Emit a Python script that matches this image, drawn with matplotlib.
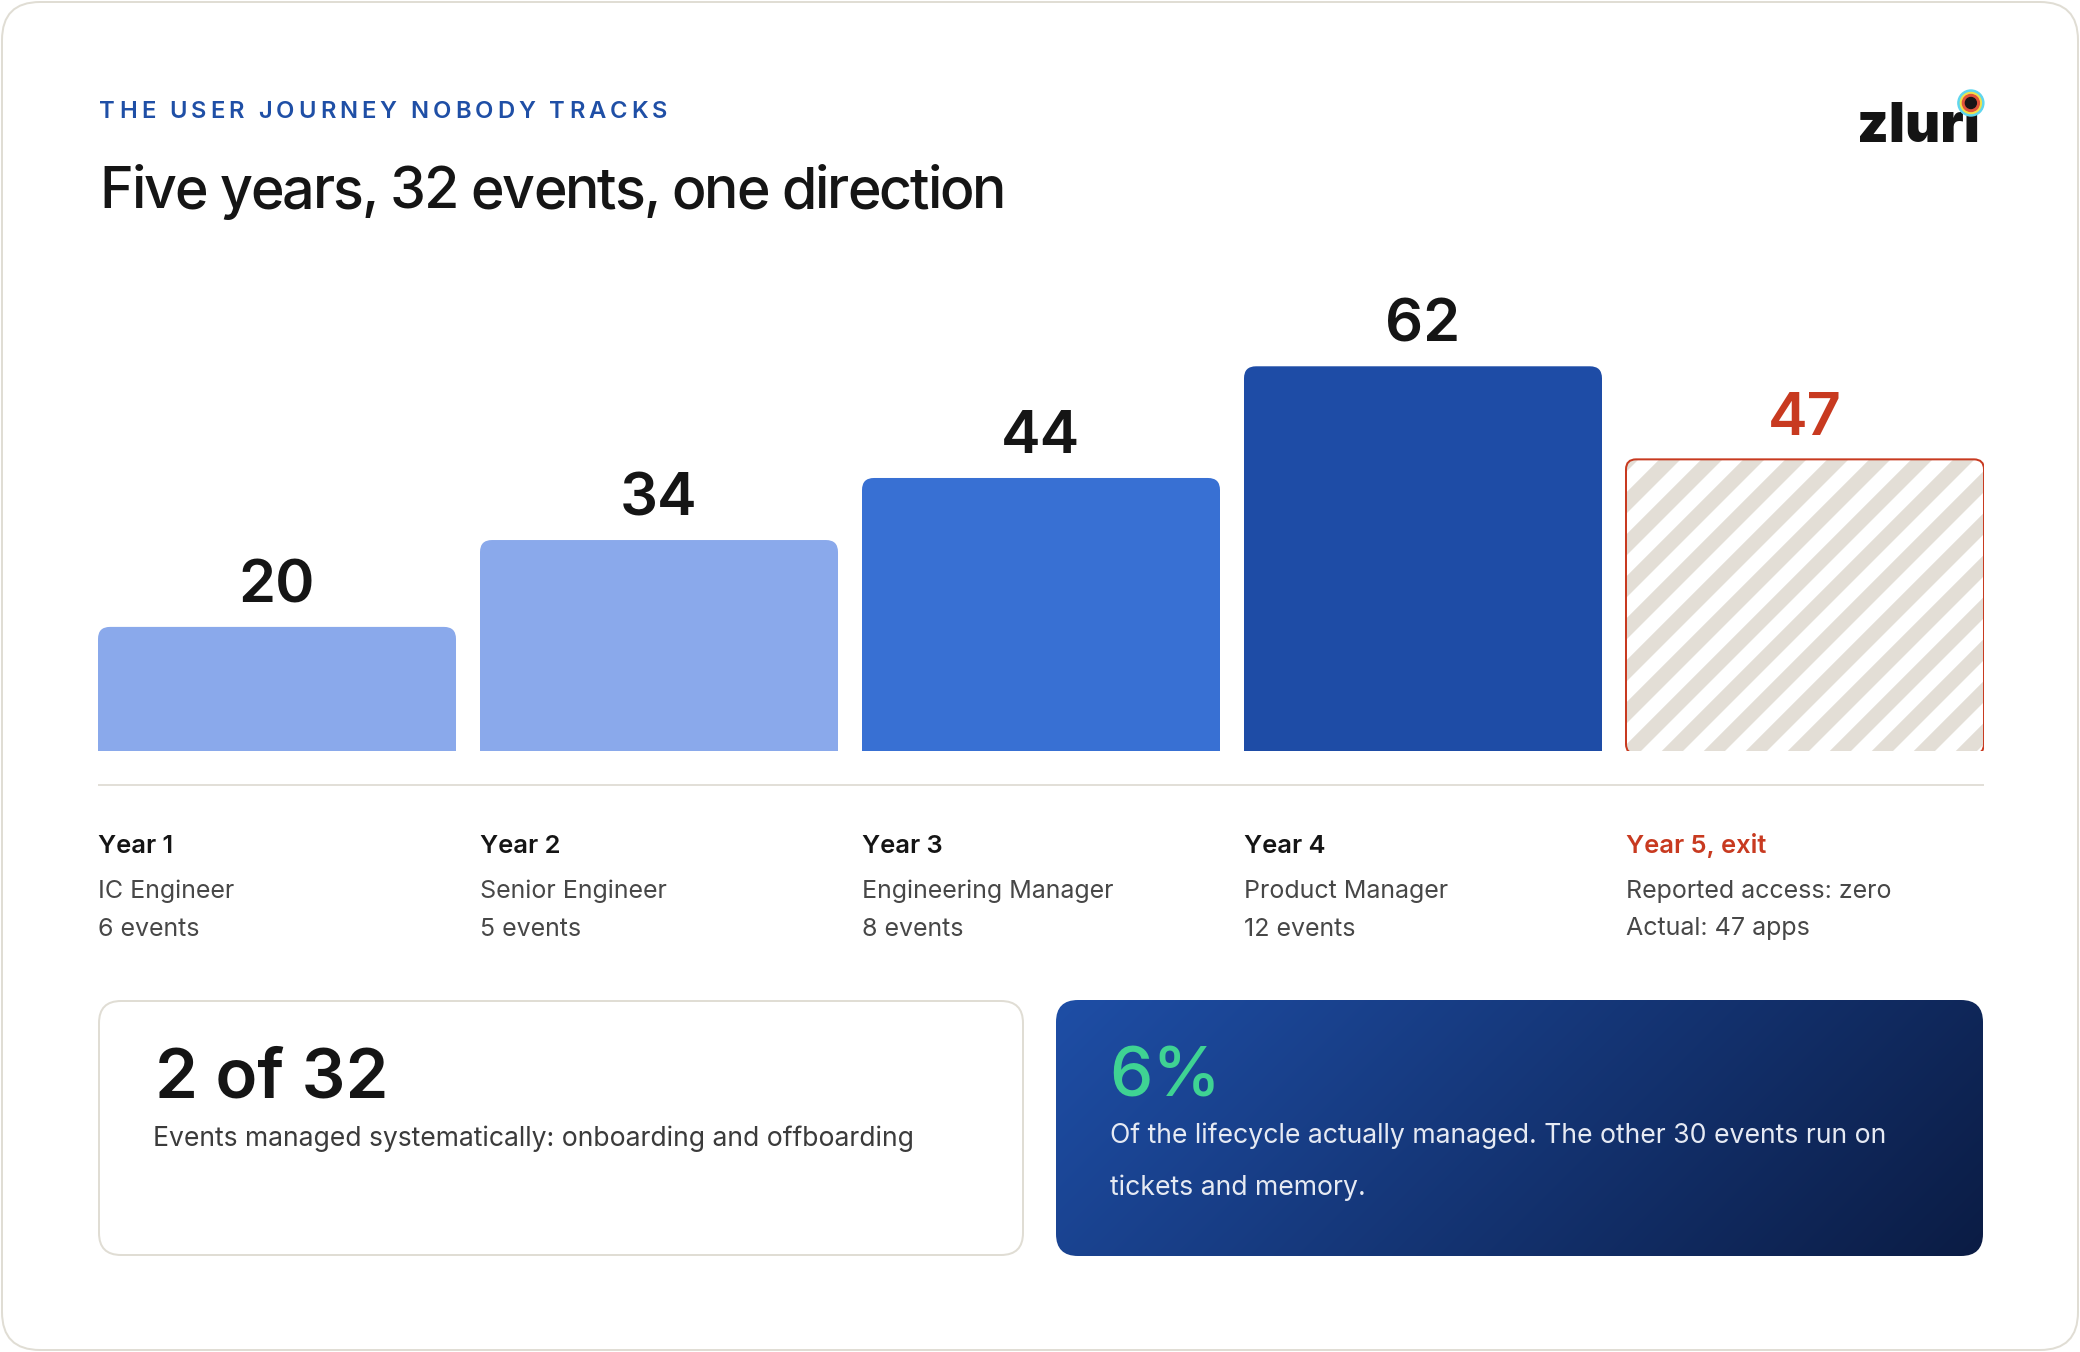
import matplotlib
matplotlib.use("Agg")
import matplotlib.pyplot as plt
from matplotlib.patches import FancyBboxPatch
import numpy as np

# ---------------- data ----------------
eyebrow = "THE USER JOURNEY NOBODY TRACKS"
title = "Five years, 32 events, one direction"
years = ["Year 1", "Year 2", "Year 3", "Year 4", "Year 5, exit"]
roles = ["IC Engineer", "Senior Engineer", "Engineering Manager", "Product Manager", "Reported access: zero"]
events = ["6 events", "5 events", "8 events", "12 events", "Actual: 47 apps"]
app_counts = [20, 34, 44, 62, 47]
stat_left_big = "2 of 32"
stat_left_text = "Events managed systematically: onboarding and offboarding"
stat_right_big = "6%"
stat_right_lines = ["Of the lifecycle actually managed. The other 30 events run on",
                    "tickets and memory."]

# ---------------- style ----------------
FONT = "Inter"
plt.rcParams["font.family"] = [FONT, "DejaVu Sans"]
W, H = 2080, 1352
PT = 0.72  # points per pixel at dpi 100
DARK = "#151515"
GREY = "#474747"
RED = "#c83a20"
BLUE_TXT = "#1f4fa6"
GREEN = "#3fd393"
BEIGE = "#e3ded6"
bar_colors = ["#8aa9eb", "#8aa9eb", "#3870d3", "#1e4ca6", "white"]

fig = plt.figure(figsize=(W / 100, H / 100), dpi=100)
bg = fig.add_axes([0, 0, 1, 1])
bg.set_xlim(0, W)
bg.set_ylim(H, 0)
bg.axis("off")

# card
card = FancyBboxPatch((2, 2), W - 4, H - 4, boxstyle="round,pad=0,rounding_size=38",
                      facecolor="white", edgecolor="#e0ddd4", linewidth=2 * PT, zorder=0)
bg.add_patch(card)

renderer = fig.canvas.get_renderer()


def tracked(ax, x, y, s, target_w, **kw):
    def width(t):
        tt = ax.text(0, 0, t, **kw)
        w = tt.get_window_extent(renderer).width
        tt.remove()
        return w
    base = width("HH")
    adv = [width("H" + c + "H") - base for c in s]
    natural = sum(adv)
    track = (target_w - natural) / (len(s) - 1)
    cx = x
    for c, a in zip(s, adv):
        ax.text(cx, y, c, va="baseline", ha="left", **kw)
        cx += a + track


tracked(bg, 99.5, 118.3, eyebrow, 568, fontsize=23.8 * PT, fontweight="semibold", color=BLUE_TXT)
tracked(bg, 99.5, 208.3, title, 907, fontsize=57.3 * PT, fontweight="medium", color=DARK)

# logo
logo = bg.text(1857, 142, "zlur\u0131", fontsize=54 * PT, fontweight="black", color="#141414",
               va="baseline", ha="left")
lx1 = logo.get_window_extent(renderer).x1  # display px == data px in x for bg axes
dot_x = lx1 - 9
for r, c in [(13, "#5fd6ee"), (10.5, "#f2e04a"), (8.5, "#e2523a"), (5.5, "#1a1416")]:
    bg.add_patch(plt.Circle((dot_x, 103), r, color=c, zorder=5))

# ---------------- bars ----------------
PXU = 6.205  # pixels per unit
ax_top, ax_bot = 280, 751
bax = fig.add_axes([98 / W, (H - ax_bot) / H, 1886 / W, (ax_bot - ax_top) / H])
bax.set_xlim(-0.4686, 4.4686)
bax.set_ylim(0, (ax_bot - ax_top) / PXU)
bax.axis("off")
xpu = 1886 / (4.4686 + 0.4686)  # pixels per x unit
x = np.arange(len(app_counts))
bars = bax.bar(x, app_counts, width=358 / xpu, color=bar_colors, linewidth=0)
asp = xpu / PXU

for i, rect in enumerate(bars):
    x0, w, h = rect.get_x(), rect.get_width(), rect.get_height()
    rx = (12 if i < 4 else 10) / xpu
    if i < 4:
        p = FancyBboxPatch((x0, 0), w, h, boxstyle=f"round,pad=0,rounding_size={rx}",
                           mutation_aspect=asp, facecolor=bar_colors[i], linewidth=0)
        bax.add_patch(p)
        rect.set_height(h - rx * asp)
        lab_col = DARK
    else:
        rect.set_visible(False)
        ext = 3 / PXU
        p = FancyBboxPatch((x0, -ext), w, h + ext, boxstyle=f"round,pad=0,rounding_size={rx}",
                           mutation_aspect=asp, facecolor="white", edgecolor="none", linewidth=0,
                           zorder=1)
        bax.add_patch(p)
        # stripes
        for k in range(-12, 12):
            s_px = k * 42 - 8
            xs = [x0 + s_px / xpu, x0 + (s_px + 500) / xpu]
            ys = [0 - 2, (500 - 2 * PXU) / PXU]
            ln, = bax.plot(xs, ys, color=BEIGE, linewidth=15 * PT, solid_capstyle="butt", zorder=2)
            ln.set_clip_path(p)
        border = FancyBboxPatch((x0, -ext), w, h + ext, boxstyle=f"round,pad=0,rounding_size={rx}",
                                mutation_aspect=asp, facecolor="none", edgecolor=RED,
                                linewidth=2 * PT, zorder=3)
        bax.add_patch(border)
        lab_col = RED
    bax.annotate(str(app_counts[i]), (x[i], h), xytext=(0, 24.5 * PT), textcoords="offset points",
                 ha="center", va="baseline", fontsize=59.6 * PT, fontweight="semibold",
                 color=lab_col, zorder=4)

# separator
bg.plot([98, 1984], [785, 785], color="#e2dfd8", linewidth=2 * PT, solid_capstyle="butt")

# year labels
for i in range(5):
    lx = 98 + 382 * i
    bg.text(lx, 853, years[i], fontsize=25.5 * PT, fontweight="semibold",
            color=RED if i == 4 else DARK, va="baseline", ha="left")
    bg.text(lx, 898, roles[i], fontsize=25 * PT, color=GREY, va="baseline", ha="left")
    bg.text(lx, 935.5, events[i], fontsize=25 * PT, color=GREY, va="baseline", ha="left")

# ---------------- stat boxes ----------------
lbox = FancyBboxPatch((99, 1001), 924, 254, boxstyle="round,pad=0,rounding_size=22",
                      facecolor="white", edgecolor="#e0ddd4", linewidth=2 * PT)
bg.add_patch(lbox)
bg.text(155, 1098, stat_left_big, fontsize=69 * PT, fontweight="semibold", color=DARK,
        va="baseline", ha="left")
bg.text(153, 1145.7, stat_left_text, fontsize=26.5 * PT, color="#3b3b3b", va="baseline", ha="left")

rx0, ry0, rw, rh = 1056, 1000, 927, 256
rbox = FancyBboxPatch((rx0, ry0), rw, rh, boxstyle="round,pad=0,rounding_size=22",
                      facecolor="none", edgecolor="none")
bg.add_patch(rbox)
gx, gy = np.meshgrid(np.linspace(0, rw, 300), np.linspace(0, rh, 90))
t = (gx + gy) / (rw + rh)
c0 = np.array([0x1e, 0x4e, 0xa6]) / 255
c1 = np.array([0x0b, 0x1c, 0x44]) / 255
img = c0[None, None, :] * (1 - t[..., None]) + c1[None, None, :] * t[..., None]
im = bg.imshow(img, extent=[rx0, rx0 + rw, ry0 + rh, ry0], origin="upper", aspect="auto",
               interpolation="bilinear", zorder=1)
im.set_clip_path(rbox)
bg.set_xlim(0, W)
bg.set_ylim(H, 0)
bg.text(1109.6, 1096.7, stat_right_big, fontsize=69 * PT, fontweight="medium", color=GREEN,
        va="baseline", ha="left", zorder=3)
for j, line in enumerate(stat_right_lines):
    bg.text(1109.6, 1143.3 + 52 * j, line, fontsize=26.6 * PT, color="#e6eaf3",
            va="baseline", ha="left", zorder=3)

fig.savefig("out.png", dpi=100)
